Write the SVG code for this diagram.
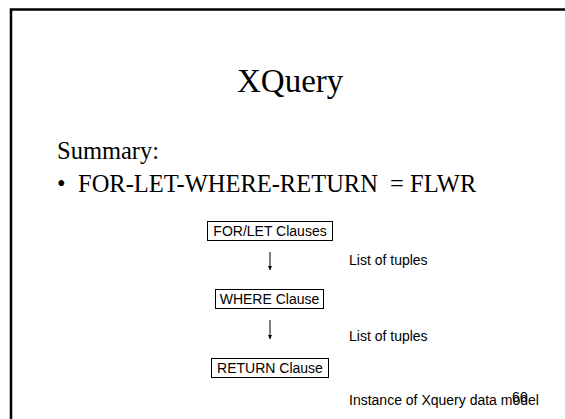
<svg xmlns="http://www.w3.org/2000/svg" width="565" height="419" viewBox="0 0 565 419">
<style>
.serif{font-family:"Liberation Serif","Times New Roman",serif;fill:#000}
.body{font-size:24.5px}
.sans{font-family:"Liberation Sans",Arial,sans-serif;font-size:14px;fill:#000}
.box{fill:#fff;stroke:#000;stroke-width:1}
.conn{stroke:#000;stroke-width:1;fill:none}
</style>
<defs>
<marker id="ah" markerWidth="4" markerHeight="4" refX="4" refY="2" orient="auto" markerUnits="userSpaceOnUse">
<path d="M0,0 L4,2 L0,4 z" fill="#000"/>
</marker>
</defs>
<rect width="565" height="419" fill="#fff"/>
<path d="M11,430 V9.5 H580" fill="none" stroke="#000" stroke-width="2.5"/>
<text class="serif" x="237" y="92" font-size="33">XQuery</text>
<text class="serif body" x="57" y="159">Summary:</text>
<text class="serif body" x="57" y="192">•</text>
<text class="serif body" x="78" y="192" xml:space="preserve">FOR-LET-WHERE-RETURN  = FLWR</text>
<g id="connectors">
<line class="conn" x1="270" y1="252" x2="270" y2="270" marker-end="url(#ah)"/>
<line class="conn" x1="270" y1="320" x2="270" y2="339" marker-end="url(#ah)"/>
</g>
<g id="forlet">
<rect class="box" x="207.5" y="221.5" width="125" height="19"/>
<text class="sans" x="270" y="236" text-anchor="middle">FOR/LET Clauses</text>
</g>
<g id="where">
<rect class="box" x="215.5" y="289.5" width="108" height="19"/>
<text class="sans" x="269.5" y="304" text-anchor="middle">WHERE Clause</text>
</g>
<g id="return">
<rect class="box" x="211.5" y="358.5" width="117" height="19"/>
<text class="sans" x="270" y="373" text-anchor="middle">RETURN Clause</text>
</g>
<g id="labels">
<text class="sans" x="349" y="265">List of tuples</text>
<text class="sans" x="349" y="341">List of tuples</text>
<text class="sans" x="349" y="405">Instance of Xquery data model</text>
<text class="sans" x="512" y="402" font-size="11">66</text>
</g>
</svg>
